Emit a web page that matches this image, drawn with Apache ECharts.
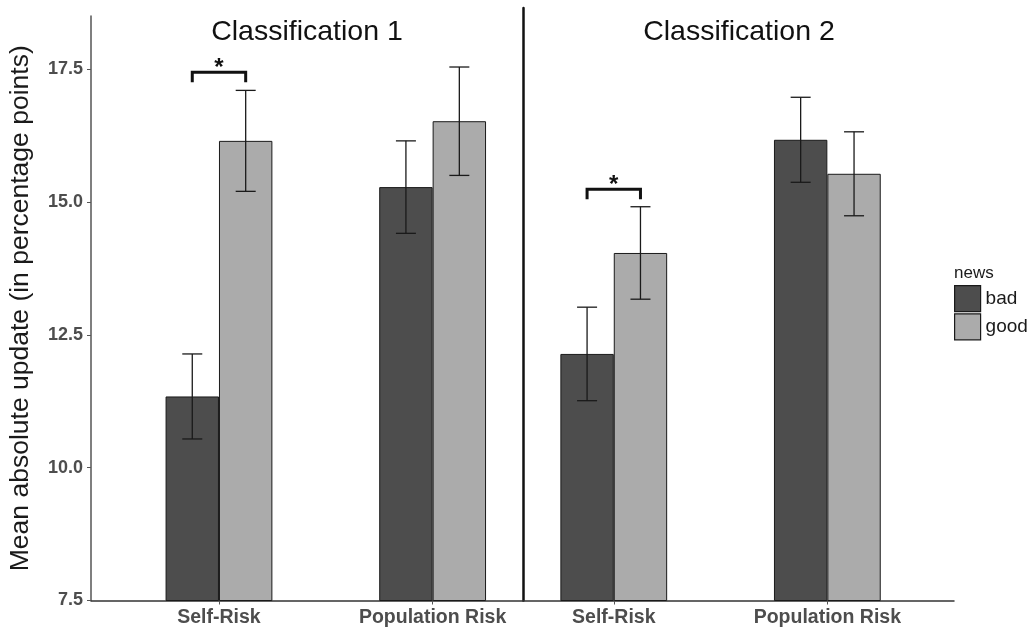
<!DOCTYPE html>
<html>
<head>
<meta charset="utf-8">
<script src="https://cdn.jsdelivr.net/npm/echarts@6/dist/echarts.min.js"></script>
<style>html,body{margin:0;padding:0;background:#fff;}#c{width:1032px;height:631px;}</style>
</head>
<body>
<div id="c"></div>
<script>
// ---- data ----
var categories = ['Self-Risk', 'Population Risk'];
var panelTitles = ['Classification 1', 'Classification 2'];
var legendNames = ['bad', 'good'];
var bad1 = [11.34, 15.28];
var bad1Err = [0.80, 0.87];
var good1 = [16.15, 16.52];
var good1Err = [0.95, 1.02];
var bad2 = [12.14, 16.17];
var bad2Err = [0.88, 0.80];
var good2 = [14.04, 15.53];
var good2Err = [0.87, 0.79];
var sigCat = [0, 0];        // category index of significance bracket per panel
var sigY = [17.44, 15.24];  // bracket height per panel
var yTicks = [7.5, 10.0, 12.5, 15.0, 17.5];

var FONT = 'Liberation Sans, Arial, sans-serif';
var C_BAD = '#4d4d4d', C_GOOD = '#ababab';
var HALF = 0.125; // bar center offset in category units (barCategoryGap 50%, 2 bars)

function pairs(arr) { return arr.map(function (v, i) { return [i, v]; }); }
function errData(vals, errs) { return vals.map(function (v, i) { return [i, v - errs[i], v + errs[i]]; }); }

function errSeries(idx, vals, errs, off) {
  return {
    type: 'custom', name: 'err' + idx + off, xAxisIndex: idx, yAxisIndex: idx, z: 5,
    data: errData(vals, errs),
    renderItem: function (params, api) {
      var x = api.value(0) + off;
      var lo = api.coord([x, api.value(1)]);
      var hi = api.coord([x, api.value(2)]);
      var w = 10;
      var st = { stroke: '#1a1a1a', lineWidth: 1.3 };
      return { type: 'group', children: [
        { type: 'line', shape: { x1: lo[0], y1: lo[1], x2: hi[0], y2: hi[1] }, style: st },
        { type: 'line', shape: { x1: lo[0] - w, y1: lo[1], x2: lo[0] + w, y2: lo[1] }, style: st },
        { type: 'line', shape: { x1: hi[0] - w, y1: hi[1], x2: hi[0] + w, y2: hi[1] }, style: st }
      ]};
    }
  };
}

function sigSeries(idx) {
  return {
    type: 'custom', name: 'sig' + idx, xAxisIndex: idx, yAxisIndex: idx, z: 6,
    data: [[sigCat[idx], sigY[idx]]],
    renderItem: function (params, api) {
      var c = api.value(0), y = api.value(1);
      var a = api.coord([c - HALF, y]);
      var b = api.coord([c + HALF, y]);
      var drop = 10;
      return { type: 'group', children: [
        { type: 'polyline', shape: { points: [[a[0], a[1] + drop], [a[0], a[1]], [b[0], b[1]], [b[0], b[1] + drop]] },
          style: { stroke: '#111', lineWidth: 3, fill: null } },
        { type: 'text', x: (a[0] + b[0]) / 2, y: a[1] + 8,
          style: { text: '*', fontSize: 24, fontWeight: 'bold', fill: '#111', fontFamily: FONT, align: 'center', verticalAlign: 'bottom' } }
      ]};
    }
  };
}

function barSeries(idx, name, vals, color) {
  return {
    type: 'bar', name: name, xAxisIndex: idx, yAxisIndex: idx,
    data: pairs(vals), barGap: '0%', barCategoryGap: '50%',
    itemStyle: { color: color, borderColor: '#1a1a1a', borderWidth: 1 },
    emphasis: { disabled: true }
  };
}

var xMins = [-0.599, -0.425], xMaxs = [1.423, 1.593];

function xAxis(idx) {
  return {
    type: 'value', gridIndex: idx, min: xMins[idx], max: xMaxs[idx],
    splitLine: { show: false },
    axisLine: { show: true, onZero: false, lineStyle: { color: '#333', width: 1.5 } },
    axisTick: { show: true, customValues: [0, 1], length: 4, lineStyle: { color: '#555', width: 1 } },
    axisLabel: { show: true, customValues: [0, 1], margin: 7,
      formatter: function (v) { return categories[Math.round(v)]; },
      fontFamily: FONT, fontSize: 19.5, fontWeight: 'bold', color: '#4d4d4d' }
  };
}

var option = {
  animation: false,
  backgroundColor: '#fff',
  title: [
    { text: panelTitles[0], left: 302, top: 13, textAlign: 'center',
      textStyle: { fontFamily: FONT, fontSize: 28.5, fontWeight: 'normal', color: '#111' } },
    { text: panelTitles[1], left: 734, top: 13, textAlign: 'center',
      textStyle: { fontFamily: FONT, fontSize: 28.5, fontWeight: 'normal', color: '#111' } },
    { text: 'news', left: 949, top: 260,
      textStyle: { fontFamily: FONT, fontSize: 17, fontWeight: 'normal', color: '#1a1a1a' } }
  ],
  legend: {
    data: legendNames, orient: 'vertical', left: 954, top: 285, padding: 0,
    icon: 'rect', itemWidth: 26, itemHeight: 26, itemGap: 1,
    selectedMode: false,
    textStyle: { fontFamily: FONT, fontSize: 19, color: '#1a1a1a' },
    itemStyle: { borderColor: '#1a1a1a', borderWidth: 1.2 }
  },
  grid: [
    { left: 91, top: 16, width: 432, height: 584.5 },
    { left: 523, top: 8, width: 431, height: 592.5 }
  ],
  xAxis: [xAxis(0), xAxis(1)],
  yAxis: [
    { type: 'value', gridIndex: 0, min: 7.5, max: 18.5, interval: 2.5,
      splitLine: { show: false },
      name: 'Mean absolute update (in percentage points)', nameLocation: 'middle', nameGap: 57,
      nameTextStyle: { fontFamily: FONT, fontSize: 26.5, color: '#1a1a1a' },
      axisLine: { show: true, onZero: false, lineStyle: { color: '#555', width: 1.5 } },
      axisTick: { show: true, length: 4, customValues: yTicks, lineStyle: { color: '#555' } },
      axisLabel: { customValues: yTicks, formatter: function (v) { return v.toFixed(1); },
        fontFamily: FONT, fontSize: 18, fontWeight: 'bold', color: '#4d4d4d', margin: 8 } },
    { type: 'value', gridIndex: 1, min: 7.5, max: 18.65,
      splitLine: { show: false },
      axisLine: { show: true, onZero: false, lineStyle: { color: '#111', width: 2.5 } },
      axisTick: { show: false }, axisLabel: { show: false } }
  ],
  series: [
    barSeries(0, 'bad', bad1, C_BAD),
    barSeries(0, 'good', good1, C_GOOD),
    barSeries(1, 'bad', bad2, C_BAD),
    barSeries(1, 'good', good2, C_GOOD),
    errSeries(0, bad1, bad1Err, -HALF),
    errSeries(0, good1, good1Err, HALF),
    errSeries(1, bad2, bad2Err, -HALF),
    errSeries(1, good2, good2Err, HALF),
    sigSeries(0),
    sigSeries(1)
  ]
};
var chart = echarts.init(document.getElementById('c'), null, { renderer: 'canvas' });
chart.setOption(option);
</script>
</body>
</html>
